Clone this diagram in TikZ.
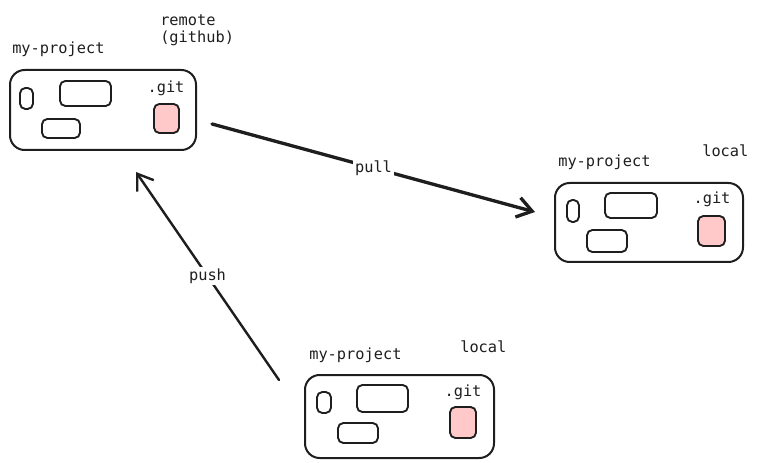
\documentclass[tikz,border=0pt]{standalone}
\usepackage{fontspec}
\setmonofont{DejaVu Sans Mono}
\usetikzlibrary{positioning,arrows.meta,calc}
\definecolor{InkBlack}{HTML}{1E1E1E}
\definecolor{GitPink}{HTML}{FFC9C9}
\def\px{0.75pt}
\tikzset{
  every node/.style = {font=\ttfamily\fontsize{11.5}{13}\selectfont, text=InkBlack},
  sz/.style 2 args  = {minimum width=#1*\px, minimum height=#2*\px},
  folder/.style     = {draw=InkBlack, line width=1.5pt, rounded corners=11pt,
                       inner sep=0pt},
  blk/.style        = {draw=InkBlack, line width=1.4pt, rounded corners=4pt,
                       inner sep=0pt},
  gitblk/.style     = {blk, fill=GitPink},
  lbl/.style        = {anchor=base west, inner sep=0pt},
  gitlbl/.style     = {anchor=base, inner sep=0pt},
  flow/.style       = {draw=InkBlack, line cap=round,
                       -{Straight Barb[length=11pt, width=15pt]}},
  flowlbl/.style    = {fill=white, inner sep=1.5pt},
}

\begin{document}
\begin{tikzpicture}[x=\px, y=-\px]
\useasboundingbox (0,0) rectangle (757,463);

% =========================================================================
% Remote repository (top left)
% =========================================================================
\node[folder, sz={186}{80}]     (remote)  at (103,110)   {};
\node[blk, sz={13}{21}]         (rmS)     at (26.5,98.5) {};
\node[blk, sz={51}{25}]         (rmW)     at (85.5,93.5) {};
\node[blk, sz={38}{19}]         (rmB)     at (61,128.5)  {};
\node[gitblk, sz={25}{29}]      (rmGit)   at (166.5,118.5) {};
\node[gitlbl]                   (rmGitT)  at (166,93)    {.git};
\node[lbl]                      (rmName)  at (12,54)     {my-project};
\node[anchor=north west, align=left, inner sep=0pt]
                                (rmTag)   at (160,14)    {remote\\(github)};

% =========================================================================
% Local clone (right)
% =========================================================================
\node[folder, sz={188}{79}]     (localA)  at (649,222.5) {};
\node[blk, sz={12}{22}]         (laS)     at (573,211)   {};
\node[blk, sz={52}{25}]         (laW)     at (631,205.5) {};
\node[blk, sz={40}{22}]         (laB)     at (607,241)   {};
\node[gitblk, sz={27}{30}]      (laGit)   at (711.5,231) {};
\node[gitlbl]                   (laGitT)  at (712,204)   {.git};
\node[lbl]                      (laName)  at (558,167)   {my-project};
\node[lbl]                      (laTag)   at (702,157)   {local};

% =========================================================================
% Local clone (bottom)
% =========================================================================
\node[folder, sz={189}{83}]     (localB)  at (399.5,416.5) {};
\node[blk, sz={14}{21}]         (lbS)     at (324,402.5) {};
\node[blk, sz={51}{27}]         (lbW)     at (382.5,398.5) {};
\node[blk, sz={40}{20}]         (lbB)     at (358,433)   {};
\node[gitblk, sz={26}{31}]      (lbGit)   at (463,422.5) {};
\node[gitlbl]                   (lbGitT)  at (463,396)   {.git};
\node[lbl]                      (lbName)  at (309,359)   {my-project};
\node[lbl]                      (lbTag)   at (460,353)   {local};

% =========================================================================
% Flows
% =========================================================================
\coordinate (pullS) at (212,124);
\coordinate (pullE) at (535,212);
\coordinate (pushS) at (279,380);
\coordinate (pushE) at (136,172);

\draw[flow, line width=2.5pt] (pullS) -- node[flowlbl] (pullLbl) {pull} (pullE);
\draw[flow, line width=1.8pt] (pushS) -- node[flowlbl] (pushLbl) {push} (pushE);

\end{tikzpicture}
\end{document}
